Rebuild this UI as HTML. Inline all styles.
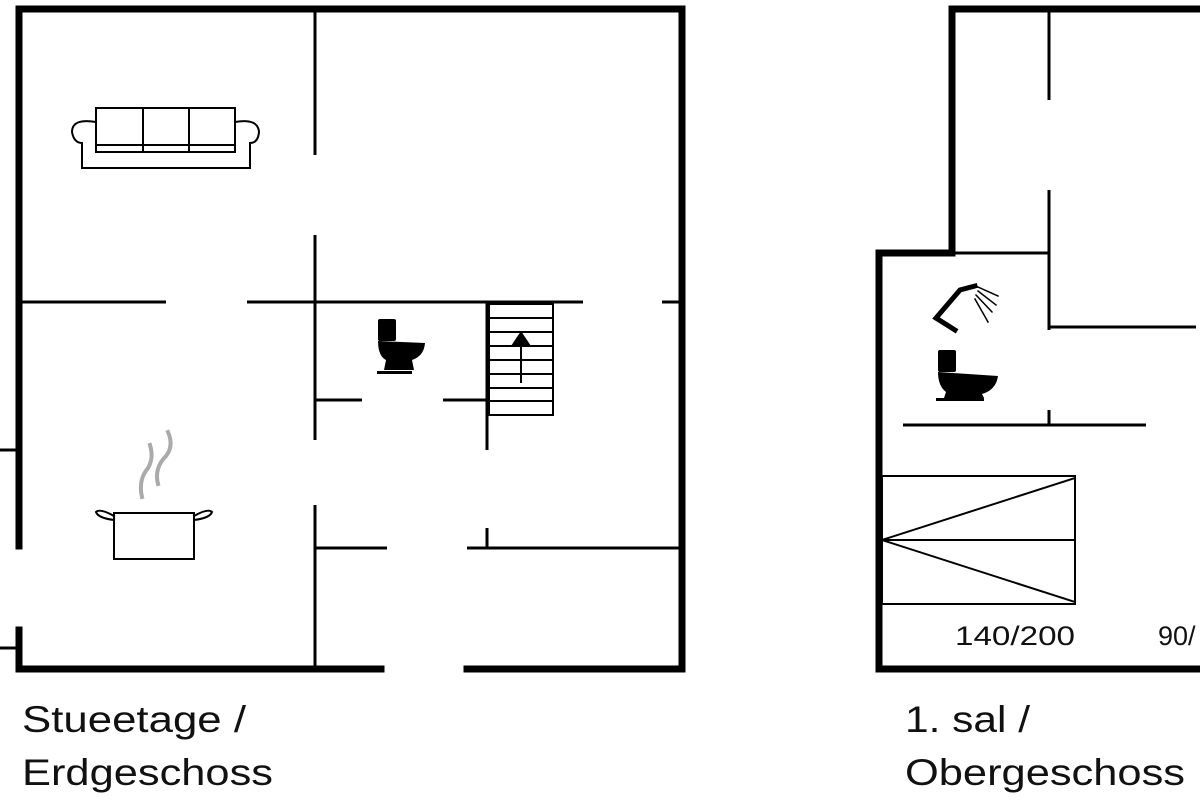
<!DOCTYPE html>
<html><head><meta charset="utf-8"><style>html,body{margin:0;padding:0;background:#fff}svg{display:block}</style></head>
<body>
<svg width="1200" height="800" viewBox="0 0 1200 800" xmlns="http://www.w3.org/2000/svg">
<rect width="1200" height="800" fill="#fff"/>
<g stroke="#000" fill="none" stroke-linecap="square">
<g stroke-width="7">
<line x1="19" y1="9" x2="682" y2="9"/>
<line x1="19" y1="9" x2="19" y2="546"/>
<line x1="682" y1="9" x2="682" y2="669"/>
<line x1="19" y1="669" x2="381" y2="669"/>
<line x1="467" y1="669" x2="682" y2="669"/>
<line x1="19" y1="630" x2="19" y2="669"/>
</g>
<g stroke-width="3" stroke-linecap="butt">
<line x1="0" y1="450" x2="19" y2="450"/>
<line x1="0" y1="648" x2="19" y2="648"/>
<line x1="315" y1="12" x2="315" y2="155"/>
<line x1="315" y1="235" x2="315" y2="440"/>
<line x1="315" y1="505" x2="315" y2="669"/>
<line x1="22" y1="302" x2="166" y2="302"/>
<line x1="247" y1="302" x2="583" y2="302"/>
<line x1="662" y1="302" x2="682" y2="302"/>
<line x1="487" y1="302" x2="487" y2="450"/>
<line x1="315" y1="400" x2="362" y2="400"/>
<line x1="443" y1="400" x2="488" y2="400"/>
<line x1="315" y1="548" x2="387" y2="548"/>
<line x1="467" y1="548" x2="680" y2="548"/>
<line x1="487" y1="528" x2="487" y2="548"/>
</g>
<g stroke-width="2">
<rect x="489" y="304" width="64" height="111"/>
<line x1="489" y1="318" x2="553" y2="318"/>
<line x1="489" y1="332" x2="553" y2="332"/>
<line x1="489" y1="346" x2="553" y2="346"/>
<line x1="489" y1="360" x2="553" y2="360"/>
<line x1="489" y1="374" x2="553" y2="374"/>
<line x1="489" y1="388" x2="553" y2="388"/>
<line x1="489" y1="401" x2="553" y2="401"/>
<line x1="521" y1="345" x2="521" y2="382"/>
</g>
<polygon points="521,331 511,346 531,346" fill="#000" stroke="none"/>
<g stroke-width="2">
<rect x="96" y="108" width="139" height="44"/>
<line x1="143" y1="108" x2="143" y2="152"/>
<line x1="189" y1="108" x2="189" y2="152"/>
<line x1="96" y1="145" x2="235" y2="145"/>
<path d="M96 122 Q72 118 72 132 Q74 143 82 143 L82 168 L250 168 L250 143 Q258 143 259 132 Q258 118 235 122"/>
</g>
<g stroke-width="2">
<rect x="114" y="513" width="80" height="46"/>
<path d="M114 520 Q98 518 96 512 Q100 508 114 516"/>
<path d="M194 520 Q210 518 212 512 Q208 508 194 516"/>
</g>
<g stroke="#aaa" stroke-width="4">
<path d="M142 497 Q138 480 148 468 Q154 458 150 445"/>
<path d="M158 484 Q154 468 166 456 Q174 446 168 432"/>
</g>
<g stroke-width="7">
<line x1="952" y1="9" x2="1200" y2="9"/>
<line x1="952" y1="9" x2="952" y2="253"/>
<line x1="879" y1="253" x2="952" y2="253"/>
<line x1="879" y1="253" x2="879" y2="669"/>
<line x1="879" y1="669" x2="1200" y2="669"/>
</g>
<g stroke-width="3" stroke-linecap="butt">
<line x1="1049" y1="12" x2="1049" y2="100"/>
<line x1="1049" y1="190" x2="1049" y2="330"/>
<line x1="1049" y1="410" x2="1049" y2="425"/>
<line x1="952" y1="253" x2="1049" y2="253"/>
<line x1="1049" y1="327" x2="1196" y2="327"/>
<line x1="903" y1="425" x2="1146" y2="425"/>
</g>
<g stroke-width="2">
<rect x="882" y="476" width="193" height="128"/>
<line x1="882" y1="540" x2="1075" y2="540"/>
<line x1="882" y1="540" x2="1075" y2="478"/>
<line x1="882" y1="540" x2="1075" y2="602"/>
</g>
<path d="M955 330 L936 318 L960 290 L975 286" stroke-width="5"/>
<g stroke-width="1.5"><line x1="978" y1="287" x2="998" y2="296"/><line x1="978" y1="291" x2="996" y2="305"/><line x1="976" y1="295" x2="992" y2="312"/><line x1="975" y1="299" x2="988" y2="322"/></g>
</g>
<g fill="#000">
<rect x="378" y="319" width="18" height="22" rx="2"/>
<path d="M378 341 L425 343 Q424 356 412 360 L414 370 L384 370 L386 360 Q378 356 378 341Z"/>
<rect x="377" y="371" width="35" height="3"/>
<rect x="938" y="350" width="18" height="22" rx="2"/>
<path d="M938 372 L998 376 Q996 390 982 394 L984 398 L944 398 L946 392 Q938 386 938 372Z"/>
<rect x="936" y="398" width="48" height="3"/>
</g>
<g font-family="Liberation Sans, sans-serif" fill="#111">
<text x="955" y="645" font-size="27" textLength="120" lengthAdjust="spacingAndGlyphs">140/200</text>
<text x="1158" y="645" font-size="27">90/</text>
<text x="22" y="732" font-size="37" textLength="224" lengthAdjust="spacingAndGlyphs">Stueetage /</text>
<text x="22" y="785" font-size="37" textLength="251" lengthAdjust="spacingAndGlyphs">Erdgeschoss</text>
<text x="905" y="732" font-size="37" textLength="125" lengthAdjust="spacingAndGlyphs">1. sal /</text>
<text x="905" y="785" font-size="37" textLength="280" lengthAdjust="spacingAndGlyphs">Obergeschoss</text>
</g>
</svg>
</body></html>
